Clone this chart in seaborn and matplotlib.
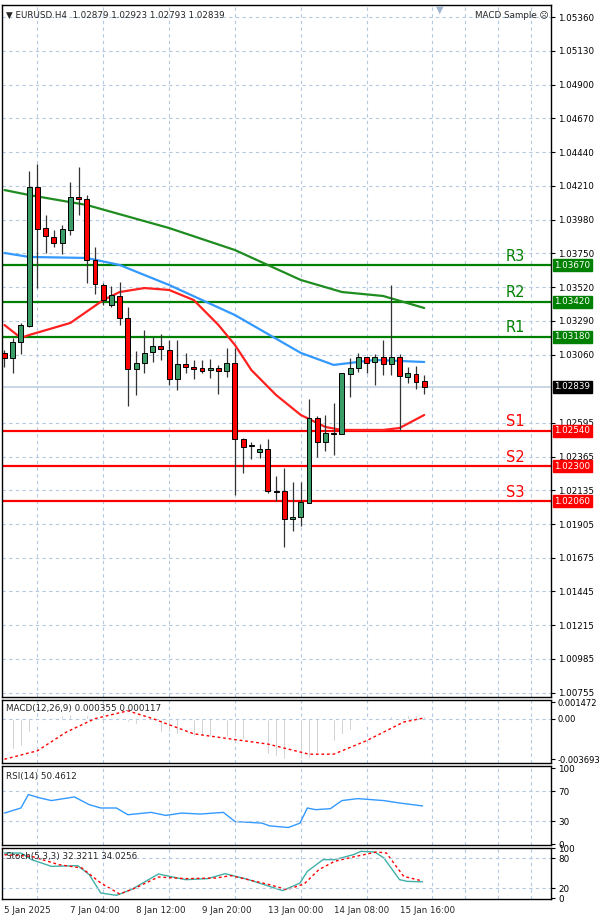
import numpy as np
import pandas as pd
import matplotlib
matplotlib.use("Agg")
import matplotlib.pyplot as plt
import matplotlib.transforms as mtransforms
import seaborn as sns

sns.set_style("white")
plt.rcParams['font.family'] = ['DejaVu Sans']

# ---- price data (H4 candles) ----
opens = [1.03071, 1.03036, 1.03145, 1.03254, 1.04202, 1.03922, 1.03861, 1.03820, 1.03909, 1.04134,
         1.04120, 1.03704, 1.03534, 1.03397, 1.03459, 1.03309, 1.02961, 1.03002, 1.03077, 1.03118,
         1.03091, 1.02893, 1.02995, 1.02975, 1.02968, 1.02954, 1.02968, 1.02948, 1.03002, 1.02484,
         1.02437, 1.02396, 1.02416, 1.02130, 1.02130, 1.01939, 1.01953, 1.02048, 1.02627, 1.02464,
         1.02518, 1.02518, 1.02927, 1.02968, 1.03043, 1.03009, 1.03043, 1.02995, 1.03043, 1.02907,
         1.02927, 1.02879]
highs = [1.03091, 1.03173, 1.03275, 1.04311, 1.04359, 1.04011, 1.03909, 1.03943, 1.04236, 1.04338,
         1.04150, 1.03793, 1.03547, 1.03527, 1.03554, 1.03384, 1.03084, 1.03227, 1.03179, 1.03200,
         1.03159, 1.03159, 1.03071, 1.03023, 1.03023, 1.03030, 1.02989, 1.03104, 1.03104, 1.02491,
         1.02464, 1.02450, 1.02484, 1.02232, 1.02287, 1.02191, 1.02191, 1.02757, 1.02641, 1.02648,
         1.02730, 1.02934, 1.03036, 1.03071, 1.03043, 1.03064, 1.03159, 1.03534, 1.03064, 1.02975,
         1.02982, 1.02923]
lows = [1.02975, 1.02934, 1.03064, 1.03247, 1.03513, 1.03752, 1.03793, 1.03745, 1.03875, 1.04011,
        1.03547, 1.03472, 1.03397, 1.03384, 1.03261, 1.02709, 1.02784, 1.02934, 1.03009, 1.03023,
        1.02852, 1.02818, 1.02934, 1.02893, 1.02934, 1.02900, 1.02791, 1.02907, 1.02103, 1.02253,
        1.02348, 1.02355, 1.02116, 1.02062, 1.01748, 1.01857, 1.01891, 1.02048, 1.02362, 1.02402,
        1.02375, 1.02518, 1.02770, 1.02941, 1.02934, 1.02852, 1.02920, 1.02920, 1.02546, 1.02866,
        1.02825, 1.02793]
closes = [1.03036, 1.03145, 1.03261, 1.04202, 1.03915, 1.03868, 1.03820, 1.03915, 1.04134, 1.04120,
          1.03704, 1.03540, 1.03431, 1.03465, 1.03309, 1.02961, 1.03002, 1.03071, 1.03118, 1.03098,
          1.02893, 1.02995, 1.02975, 1.02961, 1.02948, 1.02968, 1.02948, 1.03002, 1.02484, 1.02430,
          1.02440, 1.02416, 1.02130, 1.02125, 1.01939, 1.01953, 1.02055, 1.02627, 1.02464, 1.02525,
          1.02522, 1.02934, 1.02968, 1.03043, 1.03002, 1.03043, 1.02995, 1.03043, 1.02914, 1.02934,
          1.02873, 1.02839]

# moving averages (bar index, price)
ma_slow_idx = [0, 3, 10, 20, 28, 36, 41, 46, 51]
ma_slow = [1.04181, 1.04147, 1.04079, 1.03922, 1.03772, 1.03568, 1.03486, 1.03459, 1.03377]
ma_mid_idx = [0, 3, 10, 14, 20, 28, 36, 40, 45, 51]
ma_mid = [1.03752, 1.03725, 1.03718, 1.03670, 1.03534, 1.03329, 1.03071, 1.02989, 1.03023, 1.03009]
ma_fast_idx = [0, 2, 3, 8, 12, 14, 17, 20, 23, 26, 28, 30, 33, 36, 39, 41, 46, 48, 51]
ma_fast = [1.03261, 1.03173, 1.03193, 1.03275, 1.03431, 1.03486, 1.03513, 1.03500, 1.03431, 1.03261,
           1.03125, 1.02954, 1.02784, 1.02648, 1.02566, 1.02546, 1.02546, 1.02559, 1.02648]

levels_names = ["R3", "R2", "R1", "S1", "S2", "S3"]
levels = [1.03670, 1.03420, 1.03180, 1.02540, 1.02300, 1.02060]
price_ticks = [1.05360, 1.05130, 1.04900, 1.04670, 1.04440, 1.04210, 1.03980, 1.03750, 1.03520,
               1.03290, 1.03060, 1.02595, 1.02365, 1.02135, 1.01905, 1.01675, 1.01445, 1.01215,
               1.00985, 1.00755]
date_labels = ["5 Jan 2025", "7 Jan 04:00", "8 Jan 12:00", "9 Jan 20:00", "13 Jan 00:00",
               "14 Jan 08:00", "15 Jan 16:00"]

# ---- indicators ----
macd_hist = [-0.00308, -0.00277, -0.00246, -0.00123, -0.00031, -0.00015, 0.00015, 0.00031, 0.00040, 0.00040,
             0.00031, 0.00015, 0.00022, 0.0, 0.0, -0.00031, -0.00046, -0.00092, -0.00108, -0.00123,
             -0.00123, -0.00138, -0.00154, -0.00154, -0.00154, -0.00154, -0.00154, -0.00163, -0.00169, -0.00185,
             -0.00262, -0.00292, -0.00323, -0.00339, -0.00369, -0.00375, -0.00369, -0.00354, -0.00308, -0.00262,
             -0.00200, -0.00138, -0.00102, -0.00071, -0.00031, -0.00009, 0.0, 0.00022, 0.00031, 0.00031,
             0.00031, 0.00022]
macd_sig_idx = [0, 4, 7.5, 11, 15, 18, 23, 27.5, 32, 37, 40, 44, 48.5, 51]
macd_sig = [-0.00369, -0.00292, -0.00123, 0.0, 0.00071, 0.0, -0.00138, -0.00185, -0.00231, -0.00323,
            -0.00323, -0.00200, -0.00031, 0.00006]
rsi_idx = [0, 2, 2.9, 4.3, 5.7, 8.5, 10.3, 11.7, 13.6, 15, 17.8, 19.6, 21.5, 23.8, 26.6, 28, 31.3, 32.2,
           34.5, 35.9, 36.8, 37.8, 39.6, 41, 42.9, 46.1, 48, 50.8]
rsi = [41.1, 47.8, 65.6, 61.1, 57.6, 62.4, 52.2, 47.8, 47.8, 38.9, 42.0, 38.0, 41.1, 39.8, 42.0, 30.0,
       27.8, 24.2, 22.0, 27.8, 47.8, 45.6, 46.9, 57.6, 60.2, 57.6, 54.4, 50.5]
stoch_k_idx = [0, 2, 3.3, 5.7, 8.9, 10.3, 11.7, 13.6, 15.4, 18.7, 22, 24.7, 26.8, 29.4, 32.2, 33.8, 35.9,
               36.8, 38.7, 40.1, 42.4, 43.3, 45, 46.1, 48, 48.9, 50.8]
stoch_k = [90, 90, 76.7, 63.3, 64.7, 46.7, 10, 5.3, 16.7, 48, 36.7, 38.7, 48.7, 38, 23.3, 14.7, 30, 53.3,
           76.7, 76.7, 86.7, 93.3, 92, 80, 36.7, 33.3, 32.3]
stoch_d_idx = [0, 3.3, 6.6, 9.4, 11.7, 14, 15.9, 18.7, 22, 25.7, 27.5, 32.2, 34.3, 36.4, 38.2, 40.1, 42.7,
               45.2, 46.4, 48.5, 50.8]
stoch_d = [86.7, 83.3, 66.7, 60, 30, 8, 20, 42, 38.7, 40, 44.7, 26.7, 16.7, 28, 56.7, 73.3, 83.3, 92, 90,
           43.3, 34.0]

GRID = "#b4c8e0"
FS = 6.3
fig = plt.figure(figsize=(6, 9.22), dpi=100)
L, W = 2 / 600, 549 / 600
ax = fig.add_axes([L, 1 - 697 / 922, W, 692 / 922])
ax_m = fig.add_axes([L, 1 - 763 / 922, W, 63 / 922], sharex=ax)
ax_r = fig.add_axes([L, 1 - 845 / 922, W, 79 / 922], sharex=ax)
ax_s = fig.add_axes([L, 1 - 899 / 922, W, 51 / 922], sharex=ax)

for a in (ax, ax_m, ax_r, ax_s):
    a.yaxis.tick_right()
    a.tick_params(axis="y", labelsize=FS, length=3, pad=2, colors="black")
    a.set_xticks(np.arange(0, 67, 4), minor=True)
    a.grid(True, which="minor", axis="x", color=GRID, linestyle=(0, (3, 3)), lw=0.8)
    for s in a.spines.values():
        s.set_color("black")
        s.set_linewidth(1)

x = np.arange(len(opens))
ax.set_xlim(-0.3, 66.4)
ax.set_ylim(1.00726, 1.05442)
ax.set_yticks(price_ticks)
ax.set_yticklabels([f"{v:.5f}" for v in price_ticks])
ax.grid(True, axis="y", color=GRID, linestyle=(0, (3, 3)), lw=0.8)

# current price line
ax.axhline(closes[-1], color="#c0cfe0", lw=1.2, zorder=1)

# moving averages
sns.lineplot(x=ma_slow_idx, y=ma_slow, ax=ax, color="#1f8c1f", lw=1.6, zorder=3)
sns.lineplot(x=ma_mid_idx, y=ma_mid, ax=ax, color="#3399ff", lw=1.6, zorder=3)
sns.lineplot(x=ma_fast_idx, y=ma_fast, ax=ax, color="#ff2020", lw=1.6, zorder=3)

# candles
o, h, l, c = map(np.array, (opens, highs, lows, closes))
up = c >= o
ax.vlines(x, l, h, color="#333333", lw=0.9, zorder=4)
ax.bar(x[up], (c - o)[up], bottom=o[up], width=0.6, color="#3a9d68", edgecolor="black", lw=0.7, zorder=5)
ax.bar(x[~up], (o - c)[~up], bottom=c[~up], width=0.6, color="#ff0000", edgecolor="black", lw=0.7, zorder=5)

# support / resistance
trans = mtransforms.blended_transform_factory(ax.transAxes, ax.transData)
for name, lv in zip(levels_names, levels):
    col = "#008000" if name.startswith("R") else "#ff0000"
    ax.axhline(lv, color=col, lw=1.6, zorder=2)
    ax.text(0.935, lv + 0.0001, name, transform=trans, color=col, fontsize=10.5,
            ha="center", va="bottom", zorder=6)
    ax.text(1.006, lv, f"{lv:.5f}", transform=trans, color="white", fontsize=FS, ha="left",
            va="center", clip_on=False, zorder=7,
            bbox=dict(boxstyle="square,pad=0.15", fc=col, ec=col))
ax.text(1.006, closes[-1], f"{closes[-1]:.5f}", transform=trans, color="white", fontsize=FS,
        ha="left", va="center", clip_on=False,
        bbox=dict(boxstyle="square,pad=0.15", fc="black", ec="black"))

ax.text(0.008, 0.991, "▼ EURUSD.H4  1.02879 1.02923 1.02793 1.02839", transform=ax.transAxes,
        fontsize=FS, va="top", ha="left")
ax.text(0.995, 0.991, "MACD Sample ☹", transform=ax.transAxes, fontsize=FS, va="top", ha="right")
ax.text(0.798, 1.0, "▼", transform=ax.transAxes, fontsize=7, va="top", ha="center", color="#9fb4d0")

# MACD
ax_m.bar(x, macd_hist, width=0.2, color="#b8b8b8", zorder=2)
sns.lineplot(x=macd_sig_idx, y=macd_sig, ax=ax_m, color="#ff0000", lw=1, linestyle=(0, (2, 2)), zorder=3)
ax_m.set_ylim(-0.00403, 0.00169)
ax_m.set_yticks([0.001472, 0.0, -0.003693])
ax_m.set_yticklabels(["0.001472", "0.00", "-0.003693"], fontsize=6)
ax_m.axhline(0, color=GRID, lw=0.8, linestyle=(0, (3, 3)))
ax_m.text(0.008, 0.93, "MACD(12,26,9) 0.000355 0.000117", transform=ax_m.transAxes,
          fontsize=FS, va="top")

# RSI
sns.lineplot(x=rsi_idx, y=rsi, ax=ax_r, color="#3399ff", lw=1)
ax_r.set_ylim(-1.1, 103.3)
ax_r.set_yticks([100, 70, 30, 0])
for v in (70, 30):
    ax_r.axhline(v, color=GRID, lw=0.8, linestyle=(0, (3, 3)))
ax_r.text(0.008, 0.93, "RSI(14) 50.4612", transform=ax_r.transAxes, fontsize=FS, va="top")

# Stochastic
sns.lineplot(x=stoch_k_idx, y=stoch_k, ax=ax_s, color="#40b0a8", lw=1)
sns.lineplot(x=stoch_d_idx, y=stoch_d, ax=ax_s, color="#ff0000", lw=1, linestyle=(0, (2, 2)))
ax_s.set_ylim(-2, 100)
ax_s.set_yticks([100, 80, 20, 0])
for v in (80, 20):
    ax_s.axhline(v, color=GRID, lw=0.8, linestyle=(0, (3, 3)))
ax_s.text(0.008, 0.93, "Stoch(5,3,3) 32.3211 34.0256", transform=ax_s.transAxes, fontsize=FS, va="top")

for a in (ax, ax_m, ax_r, ax_s):
    a.set_ylabel("")
    a.set_xlabel("")
for a in (ax, ax_m, ax_r):
    a.tick_params(axis="x", which="both", bottom=False, labelbottom=False)
ax_s.set_xticks(np.arange(0, 49, 8))
ax_s.set_xticklabels(date_labels, fontsize=FS, ha="left")
ax_s.tick_params(axis="x", length=3, pad=2)
ax_s.set_xlim(-0.3, 66.4)

fig.savefig("out.png", dpi=100, facecolor="white")
